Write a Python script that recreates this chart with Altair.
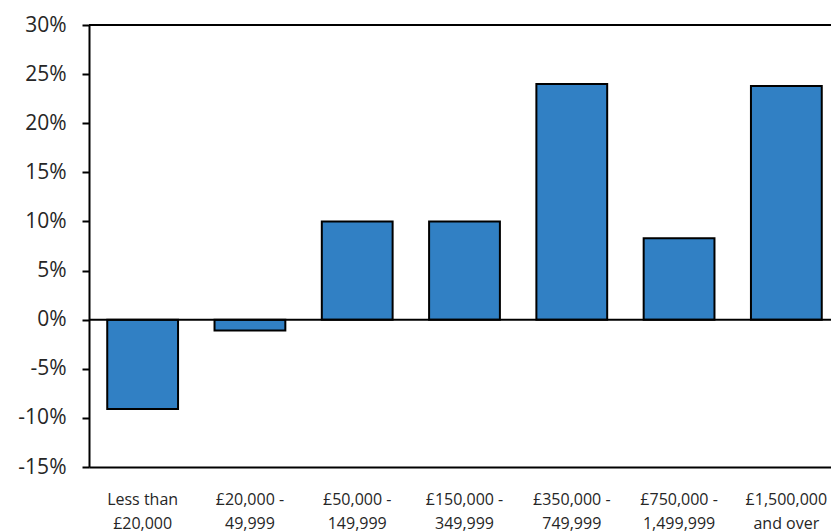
import altair as alt
import pandas as pd

categories = [
    "Less than\n£20,000",
    "£20,000 -\n49,999",
    "£50,000 -\n149,999",
    "£150,000 -\n349,999",
    "£350,000 -\n749,999",
    "£750,000 -\n1,499,999",
    "£1,500,000\nand over",
]
values = [-9.1, -1.1, 10.0, 10.0, 24.0, 8.3, 23.8]
y_ticks = [-15, -10, -5, 0, 5, 10, 15, 20, 25, 30]

df = pd.DataFrame({"cat": categories, "val": values})

W = 742
H = 442
FONT = "Open Sans"
TXT = "#262626"

x_enc = alt.X(
    "cat:N",
    sort=categories,
    title=None,
    scale=alt.Scale(range=[0, 751], paddingInner=0.34, paddingOuter=0.17),
    axis=alt.Axis(
        labelExpr="split(datum.label, '\\n')",
        labelAngle=0,
        labelFont=FONT,
        labelFontSize=16,
        labelColor=TXT,
        labelLineHeight=24,
        labelBaseline="top",
        labelPadding=24,
        ticks=False,
        tickSize=0,
        domainColor="black",
        domainWidth=2,
        grid=False,
    ),
)

y_enc = alt.Y(
    "val:Q",
    title=None,
    scale=alt.Scale(domain=[-15, 30], nice=False, zero=False),
    axis=alt.Axis(
        values=y_ticks,
        labelExpr="datum.value + '%'",
        labelFont=FONT,
        labelFontSize=21,
        labelColor=TXT,
        labelPadding=16,
        tickSize=7,
        tickColor="black",
        tickWidth=2,
        domainColor="black",
        domainWidth=2,
        grid=False,
    ),
)

bars = alt.Chart(df).mark_bar(
    color="#3180C4", stroke="black", strokeWidth=2, clip=False
).encode(x=x_enc, y=y_enc)

zero = alt.Chart(df.head(1)).mark_rule(color="black", strokeWidth=2).encode(
    y=alt.datum(0), x=alt.value(0), x2=alt.value(W)
)

top = alt.Chart(df.head(1)).mark_rule(color="black", strokeWidth=2).encode(
    y=alt.value(0), x=alt.value(0), x2=alt.value(W)
)

chart = (
    alt.layer(bars, zero, top)
    .properties(
        width=W,
        height=H,
        autosize=alt.AutoSizeParams(type="none"),
        padding={"left": 89, "top": 25, "right": 0, "bottom": 65},
        background="white",
    )
    .configure_view(stroke=None)
)

chart.save("out.html", embed_options={"renderer": "svg", "actions": False})
